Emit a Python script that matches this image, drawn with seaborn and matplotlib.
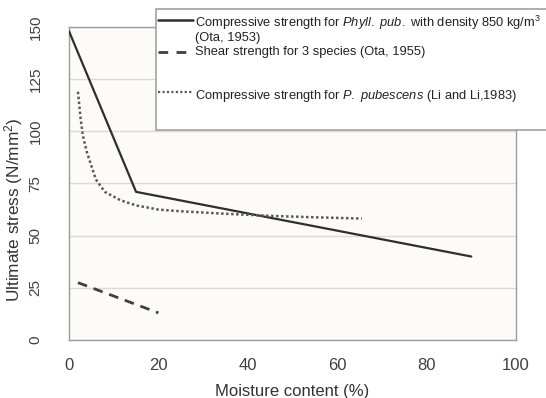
import matplotlib
matplotlib.use("Agg")
import matplotlib.pyplot as plt
from matplotlib.lines import Line2D
from matplotlib.patches import Rectangle
import seaborn as sns
import pandas as pd

# Compressive strength, Phyll. pub., density 850 kg/m3 (Ota, 1953)
ota53_moisture = [0, 15, 90]
ota53_stress = [148, 71, 40]

# Shear strength for 3 species (Ota, 1955)
ota55_moisture = [2, 20]
ota55_stress = [27.5, 13]

# Compressive strength, P. pubescens (Li and Li, 1983)
li_moisture = [2, 2.6, 3.1, 4, 6, 8, 11.5, 15, 20, 25, 35, 45, 55, 65.5]
li_stress = [119, 106, 98, 90, 77, 71, 67, 64.5, 62.5, 61.7, 60.5, 59.5, 58.8, 58.2]

x_ticks = [0, 20, 40, 60, 80, 100]
y_ticks = [0, 25, 50, 75, 100, 125, 150]

legend_labels = [
    "Compressive strength for $\\mathit{Phyll.}$ $\\mathit{pub.}$ with density 850 kg/m$^3$\n(Ota, 1953)",
    "Shear strength for 3 species (Ota, 1955)",
    "Compressive strength for $\\mathit{P.}$ $\\mathit{pubescens}$ (Li and Li,1983)",
]

sns.set_style("white")
plt.rcParams["font.family"] = ["Liberation Sans", "DejaVu Sans"]
plt.rcParams["mathtext.fontset"] = "custom"
plt.rcParams["mathtext.rm"] = "Liberation Sans"
plt.rcParams["mathtext.it"] = "Liberation Sans:italic"

W, H = 546, 398
fig = plt.figure(figsize=(W / 100, H / 100), dpi=100)
fig.patch.set_facecolor("white")
ax = fig.add_axes([69 / W, 1 - 340 / H, (516 - 69) / W, (340 - 27) / H])
ax.set_facecolor("#fcfbf8")

df53 = pd.DataFrame({"moisture": ota53_moisture, "stress": ota53_stress})
df55 = pd.DataFrame({"moisture": ota55_moisture, "stress": ota55_stress})
dfli = pd.DataFrame({"moisture": li_moisture, "stress": li_stress})

solid_c, dash_c, dot_c = "#2f2f2f", "#404040", "#5a5a5a"

sns.lineplot(data=df53, x="moisture", y="stress", ax=ax, color=solid_c,
             linewidth=1.6, zorder=3)
sns.lineplot(data=df55, x="moisture", y="stress", ax=ax, color=dash_c,
             linewidth=2.0, linestyle=(0, (3.5, 2.5)), zorder=3)
sns.lineplot(data=dfli, x="moisture", y="stress", ax=ax, color=dot_c,
             linewidth=1.8, linestyle=(0, (1, 1)), zorder=3)

ax.set_xlim(0, 100)
ax.set_ylim(0, 150)
ax.set_xticks(x_ticks)
ax.set_yticks(y_ticks)
ax.yaxis.grid(True, color="#d9d9d9", linewidth=1)
ax.xaxis.grid(False)
ax.set_axisbelow(True)
for side in ["left", "right", "top", "bottom"]:
    ax.spines[side].set_visible(True)
    ax.spines[side].set_color("#9c9c9c")
    ax.spines[side].set_linewidth(1.0)

ax.tick_params(axis="x", length=0, pad=13, labelsize=12, labelcolor="#404040")
ax.tick_params(axis="y", length=0, pad=19, labelsize=11, labelcolor="#404040")
for lab in ax.get_yticklabels():
    lab.set_rotation(90)
    lab.set_va("center")

ax.set_xlabel("Moisture content (%)", fontsize=12, color="#333333", labelpad=8)
ax.set_ylabel("Ultimate stress (N/mm$^2$)", fontsize=12.4, color="#333333")
ax.yaxis.set_label_coords(-0.098, 0.415)

# legend box drawn in figure coordinates, overlapping the plot frame
def fy(y):
    return 1 - y / H

def fx(x):
    return x / W

box = Rectangle((fx(156), fy(130)), fx(600) - fx(156), fy(9) - fy(130),
                transform=fig.transFigure, facecolor="white",
                edgecolor="#a8a8a8", linewidth=1.3, zorder=5, clip_on=False)
fig.add_artist(box)

handle_styles = [
    dict(color=solid_c, linewidth=1.8, linestyle="-"),
    dict(color=dash_c, linewidth=2.0, linestyle=(0, (3.5, 3))),
    dict(color=dot_c, linewidth=1.6, linestyle=(0, (1, 1))),
]
handle_y = [20, 52, 92]
text_y = [20, 53, 94]
for lab, sty, hy, ty in zip(legend_labels, handle_styles, handle_y, text_y):
    fig.add_artist(Line2D([fx(158), fx(193)], [fy(hy), fy(hy)],
                          transform=fig.transFigure, zorder=6, **sty))
    fig.text(fx(195), fy(ty - 6.5), lab, ha="left", va="top", fontsize=9.3,
             color="#222222", zorder=7, linespacing=1.05)

fig.savefig("out.png", dpi=100)
